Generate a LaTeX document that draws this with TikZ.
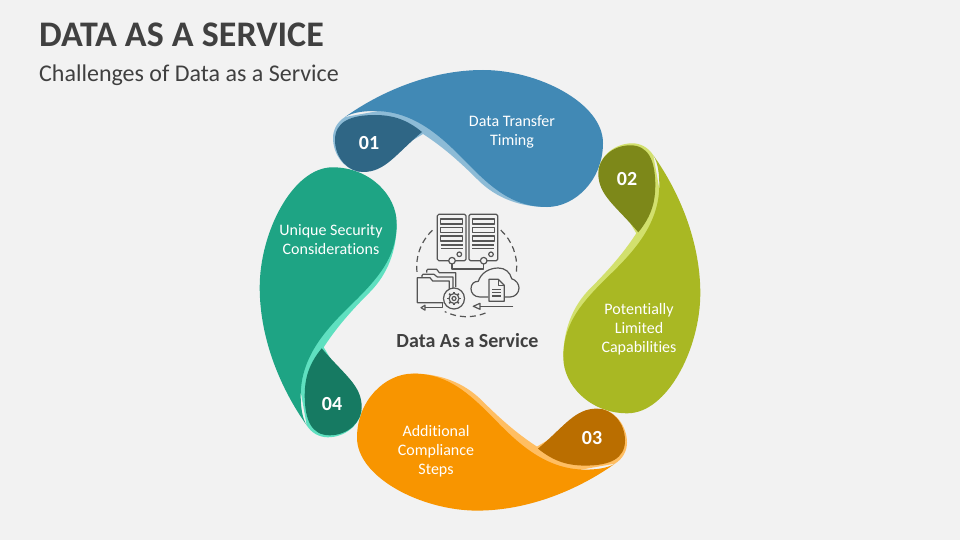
\documentclass[tikz,border=0pt]{standalone}
\usepackage{fontspec}
\setmainfont{Carlito}[Ligatures=CommonOff]
\definecolor{pagegray}{HTML}{F2F2F2}
\definecolor{inkgray}{HTML}{404040}
\definecolor{icongray}{HTML}{555555}
\definecolor{bluemain}{HTML}{4189B5}
\definecolor{bluedeep}{HTML}{2F6685}
\definecolor{bluelite}{HTML}{8DBBD6}
\definecolor{olivemain}{HTML}{A9B823}
\definecolor{olivedeep}{HTML}{7D8819}
\definecolor{olivelite}{HTML}{D2E06D}
\definecolor{orangemain}{HTML}{F89500}
\definecolor{orangedeep}{HTML}{BA6E00}
\definecolor{orangelite}{HTML}{FFBE62}
\definecolor{tealmain}{HTML}{1EA484}
\definecolor{tealdeep}{HTML}{167A62}
\definecolor{teallite}{HTML}{5FE0C0}
\tikzset{
  steptext/.style={text=white,align=center,font=\fontsize{16}{19}\selectfont},
  stepnum/.style={text=white,font=\fontsize{20}{20}\selectfont\bfseries},
  iconline/.style={draw=icongray,line width=1.2pt,line join=round},
  iconring/.style={draw=icongray,line width=1.2pt,dash pattern=on 6pt off 4pt},
}
\begin{document}
\begin{tikzpicture}[x=1pt,y=-1pt]
  \useasboundingbox[fill=pagegray] (0,0) rectangle (960,540);
  \node[anchor=west,inner sep=0pt,text=inkgray,font=\fontsize{36}{36}\selectfont\bfseries] (title) at (39,35) {DATA AS A SERVICE};
  \node[anchor=west,inner sep=0pt,text=inkgray,font=\fontsize{24}{24}\selectfont] (subtitle) at (39,75) {Challenges of Data as a Service};
  % four petals, each a quarter turn from the last
  \foreach \ang/\pmain/\pdeep/\plite in {0/bluemain/bluedeep/bluelite,
      -90/olivemain/olivedeep/olivelite,
      -180/orangemain/orangedeep/orangelite,
      -270/tealmain/tealdeep/teallite} {
    \begin{scope}[rotate around={\ang:(480,290.3)}]
      \fill[\plite] (345,117) .. controls (337,122) and (333,130) .. (333,138)
        .. controls (333,155) and (345,170) .. (360,172) -- (423,134)
        .. controls (440,145) and (456,158) .. (478,180)
        .. controls (496,198) and (520,207) .. (547,207) -- (440,100) -- cycle;
      \fill[\pmain] (345,117) .. controls (380,92) and (430,70) .. (483,70)
        .. controls (538,70) and (603,103) .. (603,143)
        .. controls (603,180) and (575,207) .. (547,207)
        .. controls (517,207) and (497,193) .. (472,168)
        .. controls (450,146) and (420,111) .. (375,111)
        .. controls (365,111) and (353,112) .. (345,117) -- cycle;
      \fill[\pdeep] (422,132) .. controls (405,118) and (390,115) .. (375,115)
        .. controls (350,115) and (335,122) .. (335,140)
        .. controls (335,158) and (348,172) .. (363,172)
        .. controls (385,172) and (395,155) .. (422,132) -- cycle;
    \end{scope}
  }
  \node[stepnum] (num1) at (369,143) {01};
  \node[stepnum] (num2) at (627,179) {02};
  \node[stepnum] (num3) at (592,438) {03};
  \node[stepnum] (num4) at (332,404) {04};
  \node[steptext] (step1) at (512,131.5) {Data Transfer\\Timing};
  \node[steptext] (step2) at (639,329.5) {Potentially\\Limited\\Capabilities};
  \node[steptext] (step3) at (436,451.5) {Additional\\Compliance\\Steps};
  \node[steptext] (step4) at (331,239.5) {Unique Security\\Considerations};
  \node[text=inkgray,font=\fontsize{20}{20}\selectfont\bfseries] (center) at (467.5,341) {Data As a Service};
  % dashed ring
  \draw[iconring] (466.7,266.7) ++(174:50) arc[start angle=174,end angle=231,radius=50];
  \draw[iconring] (466.7,266.7) ++(68:50) arc[start angle=68,end angle=116,radius=50];
  \draw[iconring] (466.7,266.7) ++(313:50) arc[start angle=313,end angle=366,radius=50];
  % servers
  \foreach \sx in {0,31.7} {
    \begin{scope}[xshift=\sx pt]
      \draw[iconline,rounded corners=1.5pt] (437.3,214.3) rectangle (466,260.7);
      \foreach \sy in {219,227.5,236}
        \draw[iconline] (440.7,\sy) rectangle (462.7,\sy+5);
      \draw[iconline] (440.7,245) -- (462.7,245) (440.7,248.3) -- (462.7,248.3);
      \draw[iconline] (459.3,254.3) circle[radius=2.3];
      \fill[pagegray] (452,260.7) circle[radius=3.3];
      \draw[iconline] (452,260.7) circle[radius=3.3];
    \end{scope}
  }
  \draw[iconline] (452,264) -- (452,269) -- (483.7,269) -- (483.7,264);
  % folders and gear
  \draw[iconline] (426.7,272.7) -- (426.7,270.5) -- ++(1,-1.2) -- (436.7,269.3) -- (439.3,272.7) -- (455.7,272.7) -- (455.7,287);
  \draw[iconline] (422,277.7) -- (422,275.5) -- ++(1,-1.2) -- (434,274.3) -- (437.3,277) -- (453,277) -- (453,288);
  \draw[iconline] (443.3,302.7) -- (417.3,302.7) -- (417.3,277.7) -- (430,277.7) -- (432.7,281) -- (449.3,281) -- (449.3,290);
  \fill[pagegray] (454,298.5) circle[radius=10.5];
  \draw[iconline] (454,298.5) circle[radius=10.5];
  \draw[iconline] (454,298.5) circle[radius=5];
  \draw[iconline] (454,298.5) circle[radius=2];
  \foreach \a in {0,45,...,315}
    \draw[iconline,line width=1.6pt] (454,298.5) ++(\a:5) -- ++(\a:1.8);
  \draw[iconline] (442.7,302) -- (442.7,307.7) -- (425,307.7);
  \draw[iconline] (425,305.2) -- (421,307.7) -- (425,310.2) -- cycle;
  % cloud and document
  \draw[iconline] (488.3,297) -- (480,297) .. controls (474,297) and (471,293) .. (471,288.7)
    .. controls (471,284) and (474,281.3) .. (478.3,281.3)
    .. controls (481,273) and (489,268) .. (498.3,268)
    .. controls (505,268) and (510,272) .. (511.7,278.7)
    .. controls (516,280) and (519,284) .. (519,288)
    .. controls (519,293) and (515,297) .. (510,297) -- (504.3,297);
  \draw[iconline] (489,279.3) -- (498.3,279.3) -- (504.3,285.3) -- (504.3,301.3) -- (489,301.3) -- cycle;
  \draw[iconline] (498.3,279.3) -- (498.3,285.3) -- (504.3,285.3);
  \draw[iconline] (492.3,289.3) -- (501,289.3) (492.3,292.7) -- (501,292.7) (492.3,296) -- (501,296);
  \draw[iconline] (513.3,306.3) -- (480,306.3);
  \draw[iconline] (480,303.3) -- (473.3,306.3) -- (480,309.3) -- cycle;
\end{tikzpicture}
\end{document}
